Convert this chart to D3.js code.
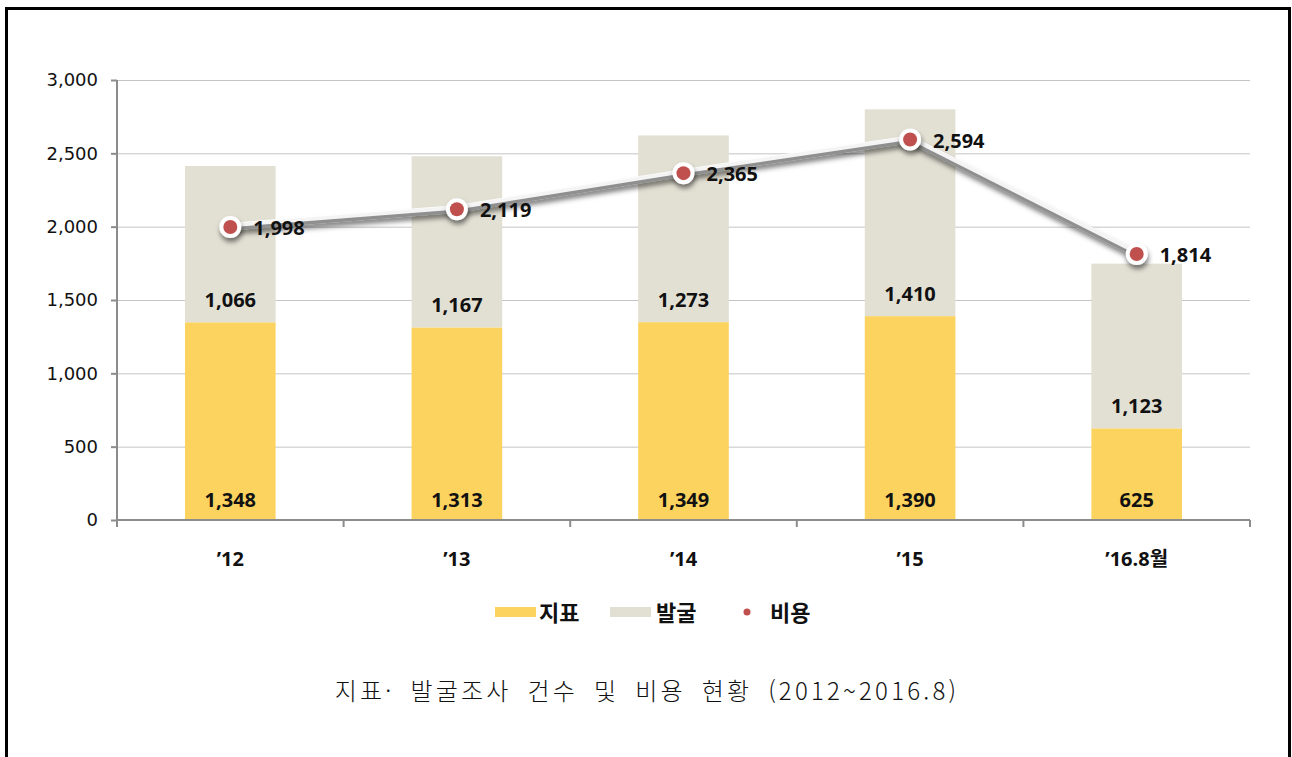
<!DOCTYPE html>
<html lang="ko">
<head>
<meta charset="UTF-8" />
<title>지표·발굴조사 건수 및 비용 현황</title>
<script src="https://d3js.org/d3.v7.min.js"></script>
<style>
  body { margin: 0; background: #fff; }
  .axis path, .axis line { stroke: #8c8c8c; stroke-width: 2px; }
  .axis text { font-family: "DejaVu Sans", sans-serif; font-size: 18px; fill: #111; }
  .lbl { font-family: "Open Sans", sans-serif; font-weight: bold; font-size: 20px; fill: #111; }
</style>
</head>
<body>
<script>
var years = ["\u201912", "\u201913", "\u201914", "\u201915", "\u201916.8월"];
var jipyo = [1348, 1313, 1349, 1390, 625];
var balgul = [1066, 1167, 1273, 1410, 1123];
var biyong = [1998, 2119, 2365, 2594, 1814];
var yTicks = [0, 500, 1000, 1500, 2000, 2500, 3000];

var width = 1292, height = 757;
var margin = { top: 80, left: 117, right: 42, bottom: 237 };

var svg = d3.select("body").append("svg")
  .attr("width", width)
  .attr("height", height);

var defs = svg.append("defs");
var f = defs.append("filter").attr("id", "shadow")
  .attr("x", "-20%").attr("y", "-40%").attr("width", "140%").attr("height", "180%");
f.append("feDropShadow").attr("dx", 1).attr("dy", 4).attr("stdDeviation", 2.5)
  .attr("flood-color", "#000").attr("flood-opacity", 0.5);

// frame
svg.append("rect")
  .attr("x", 6.5).attr("y", 8.5)
  .attr("width", 1283).attr("height", 800)
  .attr("fill", "none").attr("stroke", "#000").attr("stroke-width", 3);

var x = d3.scaleBand().domain(years)
  .range([margin.left, width - margin.right]).paddingInner(0).paddingOuter(0);
var y = d3.scaleLinear().domain([0, 3000])
  .range([height - margin.bottom, margin.top]);

// grid
svg.append("g").selectAll("line").data(yTicks.slice(1)).join("line")
  .attr("x1", margin.left).attr("x2", width - margin.right)
  .attr("y1", d => y(d) + 0.5).attr("y2", d => y(d) + 0.5)
  .attr("stroke", "#c4c4c4").attr("stroke-width", 1);

// bars
var bw = x.bandwidth() * 0.4;
var bars = svg.append("g");
bars.selectAll(".j").data(years).join("rect").attr("class", "j")
  .attr("x", d => x(d) + (x.bandwidth() - bw) / 2)
  .attr("width", bw)
  .attr("y", (d, i) => y(jipyo[i]))
  .attr("height", (d, i) => y(0) - y(jipyo[i]))
  .attr("fill", "#fcd35f");
bars.selectAll(".b").data(years).join("rect").attr("class", "b")
  .attr("x", d => x(d) + (x.bandwidth() - bw) / 2)
  .attr("width", bw)
  .attr("y", (d, i) => y(jipyo[i] + balgul[i]))
  .attr("height", (d, i) => y(jipyo[i]) - y(jipyo[i] + balgul[i]))
  .attr("fill", "#e2e0d3");

// axes
var yAxis = svg.append("g").attr("class", "axis")
  .attr("transform", "translate(" + margin.left + ",0)")
  .call(d3.axisLeft(y).tickValues(yTicks).tickSize(6).tickPadding(13)
    .tickFormat(d3.format(",")));
yAxis.select(".domain").remove();
yAxis.append("line").attr("x1", 0).attr("x2", 0)
  .attr("y1", y(0)).attr("y2", y(3000)).attr("stroke", "#8c8c8c").attr("stroke-width", 2);

var xAxis = svg.append("g").attr("class", "axis")
  .attr("transform", "translate(0," + y(0) + ")");
xAxis.append("line").attr("x1", margin.left).attr("x2", width - margin.right)
  .attr("y1", 0).attr("y2", 0).attr("stroke", "#8c8c8c").attr("stroke-width", 2);
xAxis.selectAll(".tk").data(years.map(d => x(d)).concat([x.range()[1]])).join("line")
  .attr("class", "tk")
  .attr("x1", d => d).attr("x2", d => d).attr("y1", 0).attr("y2", 7)
  .attr("stroke", "#8c8c8c").attr("stroke-width", 2);
svg.append("g").selectAll("text").data(years).join("text")
  .attr("x", d => x(d) + x.bandwidth() / 2)
  .attr("y", y(0) + 46)
  .attr("text-anchor", "middle")
  .attr("font-family", "'Open Sans', 'Noto Sans CJK KR', sans-serif")
  .attr("font-weight", "bold").attr("font-size", 20).attr("fill", "#111")
  .text(d => d);

// bar labels
svg.append("g").selectAll("text").data(years).join("text").attr("class", "lbl")
  .attr("x", d => x(d) + x.bandwidth() / 2)
  .attr("y", y(0) - 13)
  .attr("text-anchor", "middle")
  .text((d, i) => d3.format(",")(jipyo[i]));
svg.append("g").selectAll("text").data(years).join("text").attr("class", "lbl")
  .attr("x", d => x(d) + x.bandwidth() / 2)
  .attr("y", (d, i) => y(jipyo[i]) - 15)
  .attr("text-anchor", "middle")
  .text((d, i) => d3.format(",")(balgul[i]));

// cost line
var pts = years.map((d, i) => [x(d) + x.bandwidth() / 2, y(biyong[i])]);
var line = d3.line();
svg.append("path").attr("d", line(pts))
  .attr("fill", "none").attr("stroke", "#8f8f8f").attr("stroke-width", 7)
  .attr("filter", "url(#shadow)");
svg.append("path").attr("d", line(pts.map(p => [p[0], p[1] - 2])))
  .attr("fill", "none").attr("stroke", "#fff").attr("stroke-width", 4.5).attr("opacity", 0.9);
svg.append("g").selectAll("circle").data(pts).join("circle")
  .attr("cx", d => d[0]).attr("cy", d => d[1]).attr("r", 11)
  .attr("fill", "#fff").attr("filter", "url(#shadow)");
svg.append("g").selectAll("circle").data(pts).join("circle")
  .attr("cx", d => d[0]).attr("cy", d => d[1]).attr("r", 7)
  .attr("fill", "#c0504d");
svg.append("g").selectAll("text").data(pts).join("text").attr("class", "lbl")
  .attr("x", d => d[0] + 23)
  .attr("y", d => d[1] + 8)
  .text((d, i) => d3.format(",")(biyong[i]));

// legend
var lg = svg.append("g")
  .attr("font-family", "'Noto Sans CJK KR', sans-serif")
  .attr("font-weight", "bold").attr("font-size", 22).attr("fill", "#111");
lg.append("rect").attr("x", 495).attr("y", 607).attr("width", 41).attr("height", 10).attr("fill", "#fcd35f");
lg.append("text").attr("x", 539).attr("y", 621).text("지표");
lg.append("rect").attr("x", 610).attr("y", 607).attr("width", 41).attr("height", 10).attr("fill", "#e2e0d3");
lg.append("text").attr("x", 656).attr("y", 621).text("발굴");
lg.append("circle").attr("cx", 747).attr("cy", 612).attr("r", 3.5).attr("fill", "#c0504d");
lg.append("text").attr("x", 770).attr("y", 621).text("비용");

// caption
svg.append("text")
  .attr("x", 647).attr("y", 700)
  .attr("text-anchor", "middle")
  .attr("font-family", "'Noto Sans CJK KR', sans-serif")
  .attr("font-weight", 300).attr("font-size", 24)
  .attr("letter-spacing", "3.2px").attr("word-spacing", "6px")
  .attr("fill", "#111")
  .text("지표· 발굴조사 건수 및 비용 현황 (2012~2016.8)");
</script>
</body>
</html>
